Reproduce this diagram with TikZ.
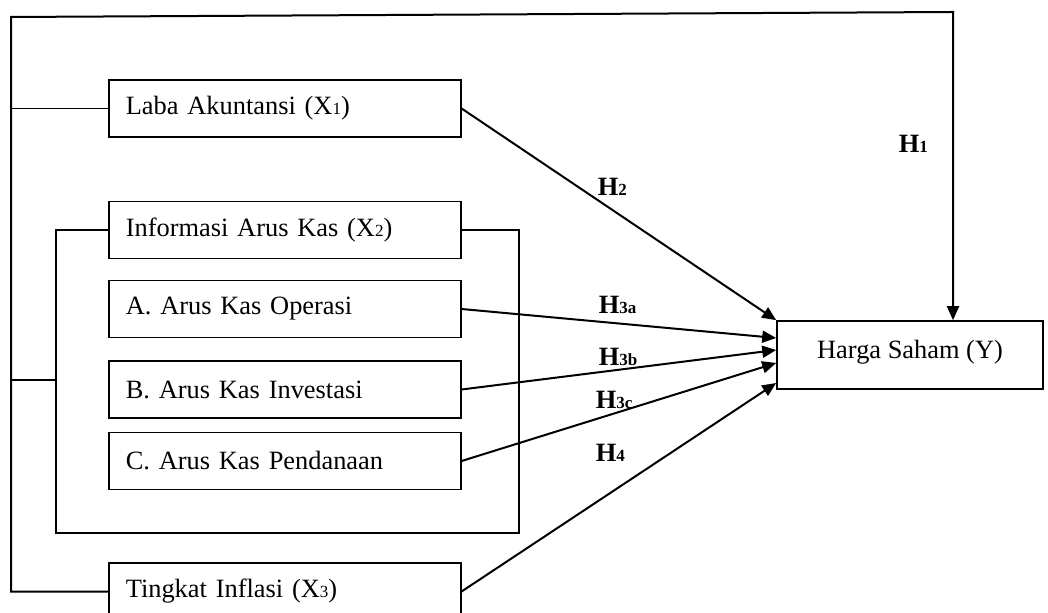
\documentclass[tikz,border=0pt]{standalone}
\usepackage{fontspec}
\setmainfont{Liberation Serif}
\usepackage{tikz}
\usetikzlibrary{arrows.meta,positioning}
\newcommand{\idx}[1]{{\fontsize{8.5}{8.5}\selectfont #1}}

\begin{document}
\begin{tikzpicture}[
			x=0.5pt, y=-0.5pt,
			font=\fontsize{13.2}{16}\selectfont,
			every path/.style={line width=0.8pt},
			varbox/.style={draw, anchor=west, text width=159pt, align=left, inner xsep=8.5pt, minimum height=28.5pt},
			hyp/.style={line width=1pt, -{Triangle[length=7pt,width=6pt]}},
			hlabel/.style={anchor=west, inner sep=0pt, font=\fontsize{13.2}{16}\selectfont\bfseries}
			]
			\useasboundingbox (0,0) rectangle (1048,613);
			% Variables
			\node[varbox] (laba) at (108,108.5) {Laba Akuntansi (X\idx{1})};
			\node[varbox] (info) at (108,230) {Informasi Arus Kas (X\idx{2})};
			\node[varbox] (opr) at (108,309) {A. Arus Kas Operasi};
			\node[varbox] (inv) at (108,389.5) {B. Arus Kas Investasi};
			\node[varbox] (pdn) at (108,461) {C. Arus Kas Pendanaan};
			\node[varbox] (tingkat) at (108,591.5) {Tingkat Inflasi (X\idx{3})};
			\node[draw, minimum width=133pt, minimum height=34pt, text depth=6pt] (harga) at (910,355) {Harga Saham (Y)};
			% Outer bracket and the H1 path
			\coordinate (topL) at (11,17);
			\coordinate (topR) at (953,12);
			\draw (laba.west) -- (laba.west -| topL);
			\draw[hyp] (tingkat.west) -| (topL) -- (topR) -- (topR |- harga.north);
			% Inner bracket round the cash flows
			\coordinate (inBL) at (56,533);
			\coordinate (inBR) at (519,533);
			\coordinate (mid) at (56,380);
			\draw (info.west) -| (inBL) -- (inBR) |- (info.east);
			\draw (mid) -- (mid -| topL);
			% Hypotheses
			\draw[hyp] (laba.east) -- (harga.north west);
			\draw[hyp] (opr.east) -- ([yshift=8.5pt]harga.west);
			\draw[hyp] (inv.east) -- ([yshift=2.5pt]harga.west);
			\draw[hyp] (pdn.east) -- ([yshift=-4pt]harga.west);
			\draw[hyp] (tingkat.east) -- ([yshift=-14pt]harga.west);
			\node[hlabel] (h1) at (898,144) {H\idx{1}};
			\node[hlabel] (h2) at (597,187) {H\idx{2}};
			\node[hlabel] (h3a) at (598,305) {H\idx{3a}};
			\node[hlabel] (h3b) at (598,357) {H\idx{3b}};
			\node[hlabel] (h3c) at (595,400) {H\idx{3c}};
			\node[hlabel] (h4) at (595,453) {H\idx{4}};
		\end{tikzpicture}
\end{document}
